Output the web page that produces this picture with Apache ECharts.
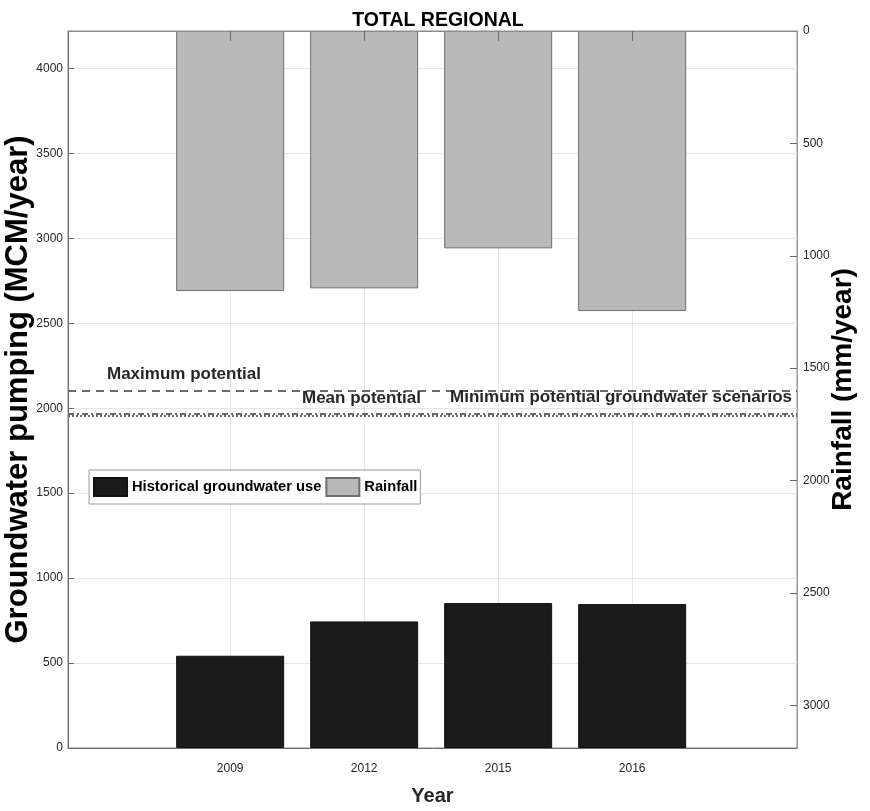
<!DOCTYPE html>
<html><head><meta charset="utf-8">
<script src="https://cdn.jsdelivr.net/npm/echarts@6/dist/echarts.min.js"></script>
<style>html,body{margin:0;padding:0;background:#fff}#c{width:870px;height:811px}</style>
</head><body><div id="c"></div>
<script>
const years = ['2009', '2012', '2015', '2016'];
const groundwaterUse = [543, 745, 853, 847];      // MCM/year (left axis)
const rainfall = [1157, 1145, 967, 1246];          // mm/year (right axis, inverted)
const potentialLevels = [2104, 1970, 1955];        // MCM/year
const potentialNames = ['Maximum potential', 'Mean potential', 'Minimum potential groundwater scenarios'];
const leftTickStep = 500;
const rightTickStep = 500;

const NARROW = "'Liberation Sans Narrow','Liberation Sans',Arial,sans-serif";
const WIDE = "'Liberation Sans',Arial,sans-serif";
const idx = years.map((_, i) => i);
const chart = echarts.init(document.getElementById('c'), null, {renderer: 'canvas'});

const xCommon = {type: 'value', min: -1.21, max: 4.23};

const option = {
  animation: false,
  backgroundColor: '#fff',
  title: {
    text: 'TOTAL REGIONAL', left: 433, top: 6, textAlign: 'center',
    textStyle: {fontFamily: NARROW, fontWeight: 'bold', fontSize: 19.5, color: '#000'}
  },
  legend: {
    left: 89, top: 470, itemWidth: 33, itemHeight: 18, itemGap: 4,
    padding: [7, 3, 7, 4], borderColor: '#9a9a9a', borderWidth: 1, backgroundColor: '#fff',
    icon: 'rect',
    textStyle: {fontFamily: NARROW, fontSize: 14.7, fontWeight: 'bold', color: '#000'},
    data: ['Historical groundwater use', 'Rainfall']
  },
  grid: {left: 68, right: 73, top: 31, bottom: 63, show: true, borderColor: '#8c8c8c', borderWidth: 1,
    containLabel: false, outerBoundsMode: 'none'},
  xAxis: [
    Object.assign({}, xCommon, {
      position: 'bottom',
      name: 'Year', nameLocation: 'middle', nameGap: 38, nameMoveOverlap: false,
      nameTextStyle: {fontFamily: NARROW, fontWeight: 'bold', fontSize: 20, color: '#262626'},
      axisLine: {show: true, onZero: false, lineStyle: {color: '#6a6a6a'}},
      axisTick: {show: true, inside: true, length: 6, customValues: idx, lineStyle: {color: '#6a6a6a'}},
      axisLabel: {customValues: idx, formatter: v => years[Math.round(v)] || '', fontFamily: NARROW, fontSize: 12, color: '#262626', margin: 15},
      splitLine: {show: true, lineStyle: {color: '#e6e6e6'}}
    }),
    Object.assign({}, xCommon, {
      position: 'top', z: 5,
      axisLine: {show: true, onZero: false, lineStyle: {color: '#8c8c8c'}},
      axisTick: {show: true, inside: true, length: 10, customValues: idx, lineStyle: {color: '#6a6a6a'}},
      axisLabel: {show: false},
      splitLine: {show: false}
    })
  ],
  yAxis: [
    {
      type: 'value', position: 'left', min: 0, max: 4220, interval: leftTickStep,
      name: 'Groundwater pumping (MCM/year)', nameLocation: 'middle', nameGap: 34, nameMoveOverlap: false,
      nameTextStyle: {fontFamily: WIDE, fontWeight: 'bold', fontSize: 31, color: '#000'},
      axisLine: {show: true, onZero: false, lineStyle: {color: '#6a6a6a'}},
      axisTick: {show: true, inside: true, length: 6, lineStyle: {color: '#6a6a6a'}},
      axisLabel: {formatter: v => (v % leftTickStep === 0 ? String(v) : ''), showMaxLabel: false,
        fontFamily: NARROW, fontSize: 12, color: '#262626', margin: 5},
      splitLine: {show: true, lineStyle: {color: '#e6e6e6'}}
    },
    {
      type: 'value', position: 'right', min: 0, max: 3190, interval: rightTickStep, inverse: true,
      name: 'Rainfall (mm/year)', nameLocation: 'middle', nameGap: 32, nameMoveOverlap: false,
      nameTextStyle: {fontFamily: WIDE, fontWeight: 'bold', fontSize: 28, color: '#000'},
      axisLine: {show: true, onZero: false, lineStyle: {color: '#a0a0a0'}},
      axisTick: {show: true, inside: true, length: 7, lineStyle: {color: '#6a6a6a'}},
      axisLabel: {formatter: v => (v % rightTickStep === 0 ? String(v) : ''), showMaxLabel: false,
        fontFamily: NARROW, fontSize: 12, color: '#262626', margin: 6},
      splitLine: {show: false}
    }
  ],
  series: [
    {
      type: 'bar', name: 'Historical groundwater use', xAxisIndex: 0, yAxisIndex: 0,
      data: idx.map(i => [i, groundwaterUse[i]]),
      barWidth: 108, barGap: '-100%',
      itemStyle: {color: '#1b1b1b', borderColor: '#111', borderWidth: 1},
      markLine: {
        silent: true, symbol: 'none',
        label: {formatter: '{b}', fontFamily: NARROW, fontWeight: 'bold', fontSize: 17, color: '#262626'},
        data: [
          {name: potentialNames[0], yAxis: potentialLevels[0],
            lineStyle: {type: [8, 6], color: '#6a6a6a', width: 2},
            label: {position: 'insideStartTop', distance: [39, 8]}},
          {name: potentialNames[1], yAxis: potentialLevels[1],
            lineStyle: {type: [6, 3, 2, 3], color: '#6a6a6a', width: 2},
            label: {position: 'insideStartTop', distance: [234, 6]}},
          {name: potentialNames[2], yAxis: potentialLevels[2],
            lineStyle: {type: [2, 2], color: '#6a6a6a', width: 2},
            label: {position: 'insideEndTop', distance: [5, 10]}}
        ]
      }
    },
    {
      type: 'bar', name: 'Rainfall', xAxisIndex: 0, yAxisIndex: 1,
      data: idx.map(i => [i, rainfall[i]]),
      barWidth: 108, barGap: '-100%',
      itemStyle: {color: '#b9b9b9', borderColor: '#6e6e6e', borderWidth: 1}
    }
  ]
};
chart.setOption(option);
</script>
</body></html>
